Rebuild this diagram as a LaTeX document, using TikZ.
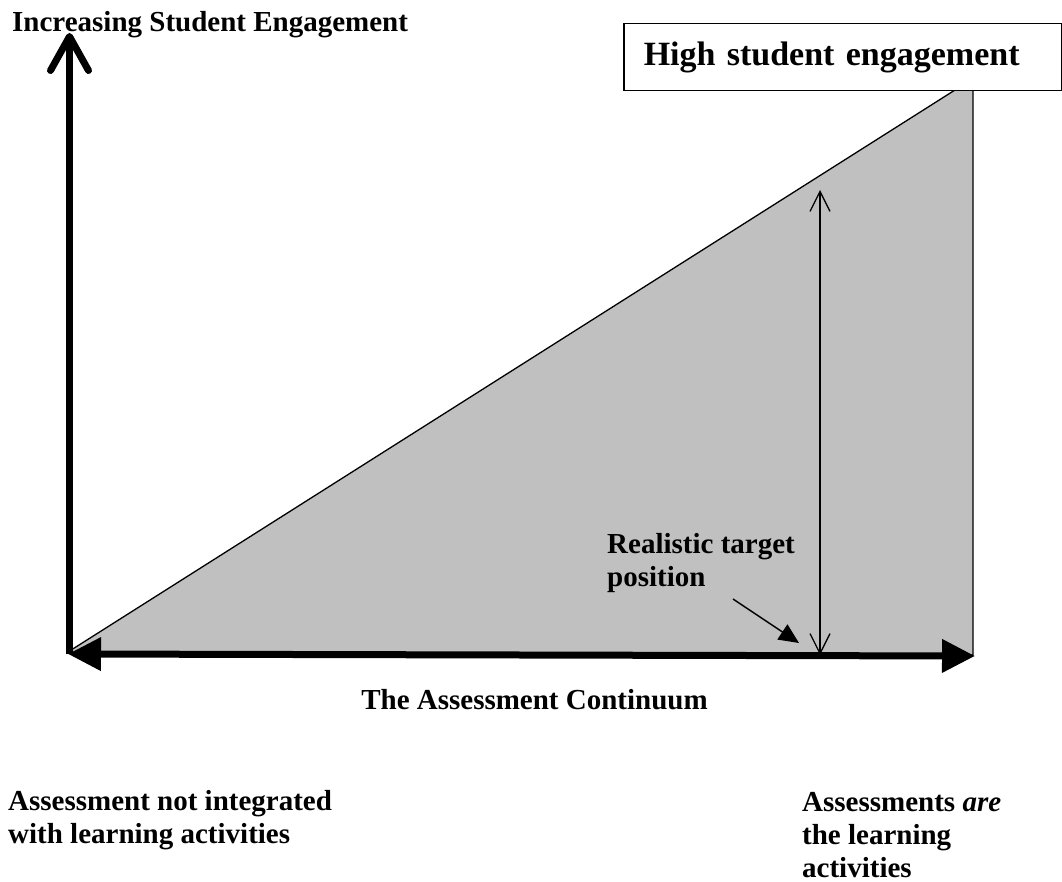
\documentclass[tikz,border=0pt]{standalone}
\usepackage{fontspec}
\setmainfont{Liberation Serif}
\usetikzlibrary{arrows.meta}
\definecolor{silver}{RGB}{192,192,192}

\begin{document}
\begin{tikzpicture}[x=1pt, y=-1pt, txt/.style={font=\fontsize{29}{33}\selectfont\bfseries, inner sep=0pt, align=left}]
\useasboundingbox (0,0) rectangle (1062,882);
\coordinate (o) at (68,652);
\coordinate (top) at (955,90);
\coordinate (tr) at (973,90);
\coordinate (br) at (973,655);
\filldraw[fill=silver, draw=black, line width=1.3pt] (o) -- (top) -- (tr) -- (br) -- cycle;
\node[draw, line width=1.5pt, fill=white, anchor=north west, minimum width=437pt, minimum height=67pt, text width=398pt, inner xsep=20pt, align=left, font=\fontsize{34}{40}\selectfont\bfseries] (high) at (623,23) {High student engagement};
\coordinate (ybot) at (69.5,654);
\coordinate (ytip) at (69.5,33);
\draw[line width=7pt, -{Straight Barb[length=34pt, width=38pt, round]}] (ybot) -- (ytip);
\coordinate (xl) at (68,654);
\coordinate (xr) at (975,656);
\draw[line width=7pt, {Triangle[length=33pt, width=32pt]}-{Triangle[length=33pt, width=32pt]}] (xl) -- (xr);
\coordinate (up) at (820,190);
\coordinate (down) at (820,655);
\draw[line width=1.3pt, {Straight Barb[length=20pt, width=20pt]}-{Straight Barb[length=20pt, width=20pt]}] (down) -- (up);
\node[txt, anchor=base west] (yname) at (12,32) {Increasing Student Engagement};
\node[txt, anchor=base west] (target) at (607,586) {Realistic target\\position};
\coordinate (ptr) at (733,599);
\coordinate (tgt) at (799,643);
\draw[line width=1.5pt, -{Triangle[length=20pt, width=18pt]}] (ptr) -- (tgt);
\node[txt, anchor=base] (cont) at (534.5,709) {The Assessment Continuum};
\node[txt, anchor=base west] (low) at (8,843) {Assessment not integrated\\with learning activities};
\node[txt, anchor=base west] (hi) at (802,877) {Assessments \textit{are}\\the learning\\activities};
\end{tikzpicture}
\end{document}
